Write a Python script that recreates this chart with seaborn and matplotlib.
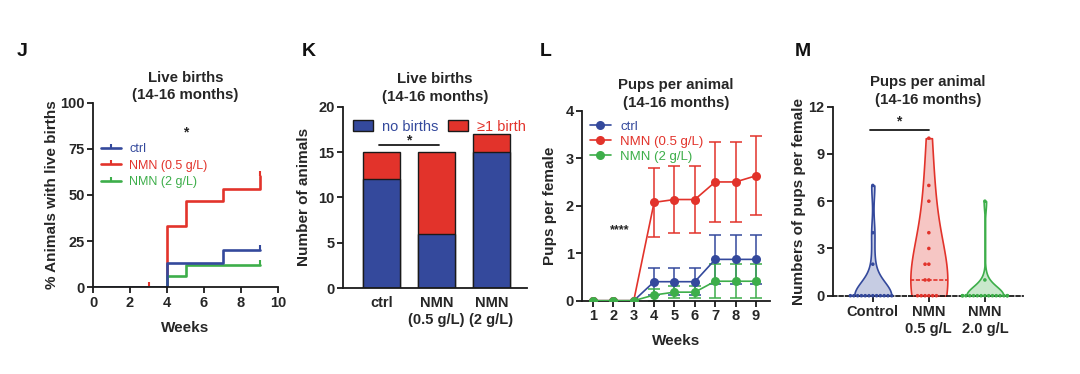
import numpy as np
import pandas as pd
import matplotlib
matplotlib.use("Agg")
import matplotlib.pyplot as plt
import seaborn as sns
from matplotlib.lines import Line2D
from matplotlib.patches import Patch
from matplotlib.markers import TICKUP

sns.set_theme(style="ticks")
plt.rcParams['font.family'] = ['Liberation Sans', 'DejaVu Sans']
plt.rcParams['font.weight'] = 'bold'
plt.rcParams['axes.labelweight'] = 'bold'

BLUE = "#34499C"
RED = "#E2332B"
GREEN = "#3DAE4A"

# ---------------- data ----------------
# J: Kaplan-Meier style % animals with live births
j_groups = ["ctrl", "NMN (0.5 g/L)", "NMN (2 g/L)"]
j_weeks = [0, 4, 5, 7, 9]
j_ctrl = [0, 13.3, 13.3, 20.0, 20.0]
j_nmn05 = [0, 33.3, 46.7, 53.3, 60.0]
j_nmn2 = [0, 5.9, 11.8, 11.8, 11.8]
j_censor_weeks = [3, 9, 9, 9]
j_censor_vals = [0, 20.0, 60.0, 11.8]
j_censor_groups = ["NMN (0.5 g/L)", "ctrl", "NMN (0.5 g/L)", "NMN (2 g/L)"]

# K: stacked bars
k_groups = ["ctrl", "NMN\n(0.5 g/L)", "NMN\n(2 g/L)"]
k_no_births = [12, 6, 15]
k_births = [3, 9, 2]

# L: pups per female over weeks
l_weeks = [1, 2, 3, 4, 5, 6, 7, 8, 9]
l_ctrl = [0, 0, 0, 0.40, 0.40, 0.40, 0.87, 0.87, 0.87]
l_ctrl_err = [0, 0, 0, 0.29, 0.29, 0.29, 0.52, 0.52, 0.52]
l_nmn05 = [0, 0, 0, 2.07, 2.13, 2.13, 2.50, 2.50, 2.63]
l_nmn05_err = [0, 0, 0, 0.72, 0.71, 0.71, 0.85, 0.85, 0.83]
l_nmn2 = [0, 0, 0, 0.12, 0.18, 0.18, 0.41, 0.41, 0.41]
l_nmn2_err = [0, 0, 0, 0.12, 0.13, 0.13, 0.36, 0.36, 0.36]

# M: violin of pups per female
m_groups = ["Control", "NMN\n0.5 g/L", "NMN\n2.0 g/L"]
m_control = [0] * 12 + [2, 4, 7]
m_nmn05 = [0] * 6 + [1, 1, 2, 2, 3, 4, 6, 7, 10]
m_nmn2 = [0] * 15 + [1, 6]

# ---------------- layout ----------------
W, H = 1080, 374
fig = plt.figure(figsize=(W / 100, H / 100), dpi=100)


def px(l, r, t, b):
    return [l / W, 1 - b / H, (r - l) / W, (b - t) / H]


axJ = fig.add_axes(px(93, 278, 102.5, 287.3))
axK = fig.add_axes(px(343, 527, 106.7, 288))
axL = fig.add_axes(px(582, 770, 110.7, 300.7))
axM = fig.add_axes(px(833, 1023, 106.7, 295.7))

TICK_FS = 10.5
LABEL_FS = 11
TITLE_FS = 10.8


def style(ax):
    sns.despine(ax=ax)
    for s in ["left", "bottom"]:
        ax.spines[s].set_linewidth(1.3)
        ax.spines[s].set_color("#1a1a1a")
    ax.tick_params(width=1.3, length=4, labelsize=TICK_FS, color="#1a1a1a", pad=2)
    for t in ax.get_xticklabels() + ax.get_yticklabels():
        t.set_fontweight("bold")


# ---------------- J ----------------
j_df = pd.DataFrame({
    "Weeks": j_weeks * 3,
    "pct": j_nmn05 + j_nmn2 + j_ctrl,
    "group": [j_groups[1]] * 5 + [j_groups[2]] * 5 + [j_groups[0]] * 5,
})
pal = {j_groups[0]: BLUE, j_groups[1]: RED, j_groups[2]: GREEN}
sns.lineplot(data=j_df, x="Weeks", y="pct", hue="group", palette=pal,
             estimator=None, drawstyle="steps-post", linewidth=1.9,
             legend=False, ax=axJ)
c_df = pd.DataFrame({"w": j_censor_weeks, "v": j_censor_vals, "g": j_censor_groups})
sns.scatterplot(data=c_df, x="w", y="v", hue="g", palette=pal, marker=TICKUP,
                s=14, linewidth=1.5, legend=False, ax=axJ)
axJ.set_xlim(0, 10)
axJ.set_ylim(0, 100)
axJ.set_xticks([0, 2, 4, 6, 8, 10])
axJ.set_yticks([0, 25, 50, 75, 100])
axJ.set_xlabel("Weeks", fontsize=LABEL_FS, labelpad=8)
axJ.set_ylabel("% Animals with live births", fontsize=LABEL_FS, labelpad=1)
axJ.set_title("Live births\n(14-16 months)", fontsize=TITLE_FS, fontweight="bold",
              pad=2, linespacing=1.35)
axJ.text(5, 84, "*", ha="center", va="center", fontsize=10)
hJ = [Line2D([0], [0], color=c, lw=1.9, marker=TICKUP, markersize=3, mew=1.5)
      for c in [BLUE, RED, GREEN]]
legJ = axJ.legend(hJ, j_groups, loc="upper left", bbox_to_anchor=(0.0, 0.82),
                  frameon=False, prop={"weight": "normal", "size": 9},
                  handlelength=1.6, handletextpad=0.7, labelspacing=0.35,
                  borderaxespad=0.2)
for t, c in zip(legJ.get_texts(), [BLUE, RED, GREEN]):
    t.set_color(c)
style(axJ)

# ---------------- K ----------------
k_df = pd.DataFrame({"group": k_groups, "no": k_no_births, "yes": k_births})
k_df["total"] = k_df["no"] + k_df["yes"]
sns.barplot(data=k_df, x="group", y="total", color=RED, saturation=1,
            width=0.67, edgecolor="#1a1a1a", linewidth=1.0, ax=axK)
sns.barplot(data=k_df, x="group", y="no", color=BLUE, saturation=1,
            width=0.67, edgecolor="#1a1a1a", linewidth=1.0, ax=axK)
axK.set_xlim(-0.7, 2.65)
axK.set_ylim(0, 20)
axK.set_yticks([0, 5, 10, 15, 20])
axK.set_xlabel("")
axK.set_ylabel("Number of animals", fontsize=LABEL_FS, labelpad=5)
axK.set_title("Live births\n(14-16 months)", fontsize=TITLE_FS, fontweight="bold",
              pad=4, linespacing=1.35)
axK.plot([-0.05, 1.05], [15.8, 15.8], color="#1a1a1a", lw=1.3)
axK.text(0.5, 16.3, "*", ha="center", va="center", fontsize=10)
hK = [Patch(facecolor=BLUE, edgecolor="#1a1a1a", lw=1.0),
      Patch(facecolor=RED, edgecolor="#1a1a1a", lw=1.0)]
legK = axK.legend(hK, ["no births", "≥1 birth"], loc="upper left",
                  bbox_to_anchor=(0.0, 0.985), ncol=2, frameon=False,
                  prop={"weight": "normal", "size": 10.5},
                  handlelength=1.35, handleheight=0.7, handletextpad=0.6,
                  columnspacing=0.7, borderaxespad=0.3)
for t, c in zip(legK.get_texts(), [BLUE, RED]):
    t.set_color(c)
style(axK)
axK.tick_params(axis="x", length=0, pad=6)

# ---------------- L ----------------
l_df = pd.DataFrame({
    "Weeks": l_weeks * 3,
    "pups": l_ctrl + l_nmn05 + l_nmn2,
    "group": [j_groups[0]] * 9 + [j_groups[1]] * 9 + [j_groups[2]] * 9,
})
for g, m, e, c in [(j_groups[0], l_ctrl, l_ctrl_err, BLUE),
                   (j_groups[1], l_nmn05, l_nmn05_err, RED),
                   (j_groups[2], l_nmn2, l_nmn2_err, GREEN)]:
    sub = l_df[l_df["group"] == g]
    idx = [i for i, v in enumerate(e) if v > 0]
    axL.errorbar([l_weeks[i] for i in idx], [m[i] for i in idx],
                 yerr=[e[i] for i in idx], fmt="none", ecolor=c,
                 elinewidth=1.1, capsize=4, capthick=1.1, zorder=2)
    sns.lineplot(data=sub, x="Weeks", y="pups", color=c, marker="o",
                 markersize=6.5, markeredgewidth=0, linewidth=1.2,
                 estimator=None, legend=False, ax=axL, zorder=3)
axL.set_xlim(0.46, 9.69)
axL.set_ylim(0, 4)
axL.set_xticks(l_weeks)
axL.set_yticks([0, 1, 2, 3, 4])
axL.set_xlabel("Weeks", fontsize=LABEL_FS, labelpad=8)
axL.set_ylabel("Pups per female", fontsize=LABEL_FS, labelpad=6)
axL.set_title("Pups per animal\n(14-16 months)", fontsize=TITLE_FS, fontweight="bold",
              pad=3, linespacing=1.35)
axL.text(2.32, 1.48, "****", ha="center", va="center", fontsize=9)
hL = [Line2D([0], [0], color=c, lw=1.2, marker="o", markersize=6.5, mew=0)
      for c in [BLUE, RED, GREEN]]
legL = axL.legend(hL, j_groups, loc="upper left", bbox_to_anchor=(0.0, 0.99),
                  frameon=False, prop={"weight": "normal", "size": 9.5},
                  handlelength=1.6, handletextpad=0.7, labelspacing=0.2,
                  borderaxespad=0.2)
for t, c in zip(legL.get_texts(), [BLUE, RED, GREEN]):
    t.set_color(c)
style(axL)

# ---------------- M ----------------
m_df = pd.DataFrame({
    "group": [m_groups[0]] * len(m_control) + [m_groups[1]] * len(m_nmn05)
             + [m_groups[2]] * len(m_nmn2),
    "pups": m_control + m_nmn05 + m_nmn2,
})
mpal = {m_groups[0]: BLUE, m_groups[1]: RED, m_groups[2]: GREEN}
mcols = [BLUE, RED, GREEN]
m_bw = [0.75, 1.35, 0.7]
for g, c, bw in zip(m_groups, mcols, m_bw):
    n0 = len(axM.collections)
    l0 = len(axM.lines)
    sns.violinplot(data=m_df[m_df["group"] == g], x="group", y="pups", color=c,
                   order=m_groups, cut=0, inner="quart", density_norm="width",
                   width=0.66, bw_adjust=bw, linewidth=1.2, saturation=1,
                   ax=axM)
    for p in axM.collections[n0:]:
        p.set_facecolor(matplotlib.colors.to_rgba(c, 0.28))
        p.set_edgecolor(c)
        p.set_linewidth(1.2)
    for i, ln in enumerate(axM.lines[l0:]):
        ln.set_color(c)
        ln.set_linewidth(1.2)
        if i != 1:
            ln.set_visible(False)
n1 = len(axM.collections)
sns.swarmplot(data=m_df, x="group", y="pups", hue="group", palette=mpal,
              order=m_groups, size=2.6, legend=False, ax=axM, warn_thresh=1)
for col in axM.collections[n1:]:
    col.set_clip_on(False)
axM.set_xlim(-0.71, 2.68)
axM.set_ylim(0, 12)
axM.set_yticks([0, 3, 6, 9, 12])
axM.set_xlabel("")
axM.set_ylabel("Numbers of pups per female", fontsize=LABEL_FS, labelpad=2)
axM.set_title("Pups per animal\n(14-16 months)", fontsize=TITLE_FS, fontweight="bold",
              pad=1, linespacing=1.35)
axM.plot([-0.05, 1.0], [10.55, 10.55], color="#1a1a1a", lw=1.3)
axM.text(0.47, 11.05, "*", ha="center", va="center", fontsize=10)
style(axM)
axM.spines["bottom"].set_linestyle((0, (2, 1.5)))
axM.tick_params(axis="x", pad=3)

# panel letters
for x, letter in [(17, "J"), (302, "K"), (540, "L"), (795, "M")]:
    fig.text(x / W, 1 - 51 / H, letter, fontsize=14, fontweight="bold",
             ha="left", va="center", color="#111111")

fig.savefig("out.png", dpi=100)
